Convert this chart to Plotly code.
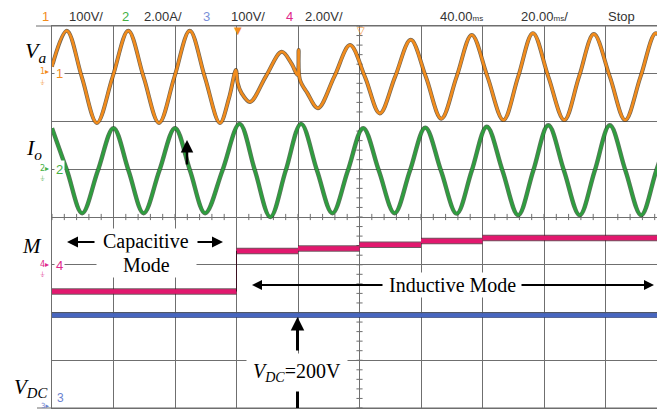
import plotly.graph_objects as go

# ---------------- data (in scope divisions) ----------------
va_t = [0.0, 0.24, 0.485, 0.73, 0.985, 1.24, 1.49, 1.74, 1.99, 2.24, 2.485, 2.73, 2.88, 2.99,
        3.02, 3.08, 3.22, 3.48, 3.735, 3.9, 3.99, 4.01, 4.03, 4.15, 4.325, 4.59, 4.846, 5.09,
        5.33, 5.58, 5.833, 6.08, 6.33, 6.58, 6.825, 7.08, 7.34, 7.58, 7.82, 8.07, 8.33,
        8.57, 8.81, 9.07, 9.32, 9.57, 9.82, 10.07]
va_v = [7.15, 7.9, 6.93, 5.97, 6.93, 7.9, 6.93, 5.97, 6.93, 7.9, 6.93, 5.97, 6.5, 7.08,
        6.8, 6.6, 6.41, 6.95, 7.46, 7.2, 6.98, 7.5, 6.88, 6.6, 6.28, 6.94, 7.6, 6.93,
        6.17, 6.94, 7.71, 6.93, 6.06, 6.94, 7.81, 6.94, 6.03, 6.94, 7.85, 6.94, 6.03,
        6.94, 7.83, 6.94, 6.03, 6.94, 7.85, 6.94]

# Channel 2: Io (green)
io_t = [0.0, 0.245, 0.49, 0.745, 1.0, 1.245, 1.49, 1.745, 2.0, 2.245, 2.49, 2.77, 3.05, 3.3,
        3.55, 3.8, 4.05, 4.31, 4.56, 4.81, 5.06, 5.315, 5.57, 5.82, 6.07, 6.325, 6.58,
        6.825, 7.07, 7.325, 7.58, 7.825, 8.07, 8.325, 8.58, 8.825, 9.07, 9.325, 9.58,
        9.825, 10.07]
io_v = [5.86, 4.97, 4.08, 4.97, 5.86, 4.97, 4.08, 4.97, 5.86, 4.97, 4.08, 4.97, 5.95, 4.97,
        4.0, 4.97, 5.95, 4.97, 4.08, 4.97, 5.86, 4.97, 4.08, 4.97, 5.87, 4.97, 4.07,
        4.97, 5.89, 4.97, 4.04, 4.97, 5.92, 4.97, 4.04, 4.97, 5.92, 4.97, 4.04,
        4.97, 5.92]

# Channel 4: modulation index M (pink), step levels
m_start = [0.0, 3.0, 4.0, 5.0, 6.0, 7.0]
m_end = [3.0, 4.0, 5.0, 6.0, 7.0, 10.0]
m_level = [2.44, 3.29, 3.34, 3.42, 3.50, 3.56]

# Channel 3: VDC (blue)
vdc_t = [0.0, 10.0]
vdc_v = [1.94, 1.94]

header_labels = ["1", "100V/", "2", "2.00A/", "3", "100V/", "4", "2.00V/"]

# ---------------- geometry helpers ----------------
# page body has an 8px margin, so the figure is shifted by 8px
PL, PT = 52.0, 26.0          # plot left / top in page px
PW, PH = 613.0, 382.0        # plot width / height px
DX = 61.5                    # px per horizontal division
def PX(px):                  # page px -> paper x
    return (px - PL) / PW
def PY(py):                  # page py -> paper y
    return (PT + PH - py) / PH

ORANGE = "#F28C1C"
GREEN = "#2E9E3E"
PINK = "#E2186E"
BLUE = "#4766C0"
GRID = "#6f6f6f"

fig = go.Figure()

def trace(xs, ys, color, w, dark, dw, shape="spline"):
    fig.add_trace(go.Scatter(x=xs, y=ys, mode="lines",
                             line=dict(color=dark, width=dw, shape=shape, smoothing=1.0),
                             opacity=0.7, hoverinfo="skip", showlegend=False))
    fig.add_trace(go.Scatter(x=xs, y=ys, mode="lines",
                             line=dict(color=color, width=w, shape=shape, smoothing=1.0),
                             hoverinfo="skip", showlegend=False))

mx, my = [], []
for s, e, v in zip(m_start, m_end, m_level):
    mx += [s, e, None]
    my += [v, v, None]

trace(vdc_t, vdc_v, BLUE, 4.0, "#1b2a55", 5.5, shape="linear")
trace(mx, my, PINK, 4.5, "#3a1020", 6.5, shape="linear")
trace(io_t, io_v, GREEN, 2.8, "#163a18", 4.4)
trace(va_t, va_v, ORANGE, 2.6, "#3d2608", 4.0)

fig.add_shape(type="line", x0=3.0, x1=3.0, y0=2.44, y1=3.29,
              line=dict(color="#3a1020", width=1))

# minor ticks on centre cross
for k in range(0, 41):
    yy = k * 0.2
    fig.add_shape(type="line", xref="x", yref="y", x0=5 - 0.05, x1=5 + 0.05, y0=yy, y1=yy,
                  line=dict(color=GRID, width=1), layer="below")
for k in range(0, 50):
    xx = k * 0.2
    fig.add_shape(type="line", xref="x", yref="y", x0=xx, x1=xx, y0=4 - 0.065, y1=4 + 0.065,
                  line=dict(color=GRID, width=1), layer="below")
# extended top / bottom frame lines
fig.add_shape(type="line", xref="paper", yref="paper", x0=PX(36), x1=PX(665), y0=1, y1=1,
              line=dict(color=GRID, width=1.2))
fig.add_shape(type="line", xref="paper", yref="paper", x0=PX(37), x1=PX(665), y0=0, y1=0,
              line=dict(color=GRID, width=1.2))

ann = []
SERIF = "Liberation Serif, Times New Roman, serif"
NARROW = "Liberation Sans Narrow, Arial Narrow, Liberation Sans, sans-serif"

def text(px, py, t, size=20, color="black", family=SERIF, bg=None, pad=0):
    d = dict(x=PX(px), y=PY(py), xref="paper", yref="paper", text=t, showarrow=False,
             font=dict(size=size, color=color, family=family), xanchor="center", yanchor="middle")
    if bg:
        d["bgcolor"] = bg
        d["borderpad"] = pad
    ann.append(d)

def arrow(x_tail, y_tail, x_head, y_head, w=2, size=1.0, head=2):
    ann.append(dict(x=PX(x_head), y=PY(y_head), xref="paper", yref="paper",
                    ax=x_tail - x_head, ay=y_tail - y_head, text="", showarrow=True,
                    arrowhead=head, arrowsize=size, arrowwidth=w, arrowcolor="black"))

def vline(px, y0, y1, w=3):
    fig.add_shape(type="line", xref="paper", yref="paper", x0=PX(px), x1=PX(px),
                  y0=PY(y0), y1=PY(y1), line=dict(color="black", width=w))

# header
HY = 16
hdr_x = [45, 86, 125, 163, 206, 248, 289, 324]
hdr_c = [ORANGE, "#333333", "#45B043", "#333333", "#7A8FD8", "#333333", "#E0288A", "#333333"]
for px, t, c in zip(hdr_x, header_labels, hdr_c):
    text(px, HY, t, size=13, color=c, family=NARROW)
text(461, HY, "40.00<span style='font-size:8px'>ms</span>", size=13, color="#333333", family=NARROW)
text(544, HY, "20.00<span style='font-size:8px'>ms</span>/", size=13, color="#333333", family=NARROW)
text(621, HY, "Stop", size=13, color="#333333", family=NARROW)

# trigger markers on top edge
text(238, 30, "▼", size=10, color=ORANGE, family="DejaVu Sans")
text(361, 30, "▽", size=10, color=ORANGE, family="DejaVu Sans")

# channel markers on left
for py, lab, c in [(73, "1", ORANGE), (169, "2", "#45B043"), (265, "4", "#E0288A")]:
    text(44, py - 1, lab + "▸", size=8, color=c, family="DejaVu Sans")
    text(42, py + 10, "⏚", size=7, color=c, family="DejaVu Sans")
    text(59, py, lab, size=13, color=c, family=NARROW, bg="white", pad=1)
text(60, 398, "3", size=12, color="#6C83D0", family=NARROW)
text(45, 406, "3▸", size=7, color="#6C83D0", family="DejaVu Sans")

# signal names
text(35, 52, "<i>V<sub>a</sub></i>", size=22)
text(34, 149, "<i>I<sub>o</sub></i>", size=22)
text(32, 246, "<i>M</i>", size=21)
text(30, 388, "<i>V<sub>DC</sub></i>", size=21)

# capacitive mode
text(146, 242, "Capacitive", size=20, bg="white", pad=1)
text(146, 265, "\u00a0\u00a0\u00a0\u00a0\u00a0Mode\u00a0\u00a0\u00a0\u00a0\u00a0", size=20, bg="white", pad=1)
arrow(96, 242, 67, 242, w=2.2)
arrow(196, 242, 223, 242, w=2.2)

# inductive mode
text(452, 285, "Inductive Mode", size=20, bg="white", pad=1)
arrow(384, 285, 252, 285, w=2)
arrow(520, 285, 654, 285, w=2)

# arrow in current panel
arrow(187, 166, 187, 140, w=2.5)

# VDC annotation
text(297, 372, "<i>V<sub>DC</sub></i>=200V", size=20, bg="white", pad=6)
arrow(297.5, 352, 297.5, 317, w=3, size=0.9)
vline(297.5, 390, 408)

fig.update_layout(
    width=657, height=406,
    margin=dict(l=44, r=0, t=18, b=6),
    paper_bgcolor="white", plot_bgcolor="white",
    annotations=ann,
    xaxis=dict(range=[0, PW / DX], dtick=1, tick0=0, showgrid=True, gridcolor=GRID, gridwidth=1,
               showticklabels=False, ticks="", zeroline=False, showline=True, linecolor=GRID,
               linewidth=1.2, mirror=True, fixedrange=True),
    yaxis=dict(range=[0, 8], dtick=1, tick0=0, showgrid=True, gridcolor=GRID, gridwidth=1,
               showticklabels=False, ticks="", zeroline=False, showline=True, linecolor=GRID,
               linewidth=1.2, fixedrange=True),
    showlegend=False,
)

fig.write_html("out.html")
